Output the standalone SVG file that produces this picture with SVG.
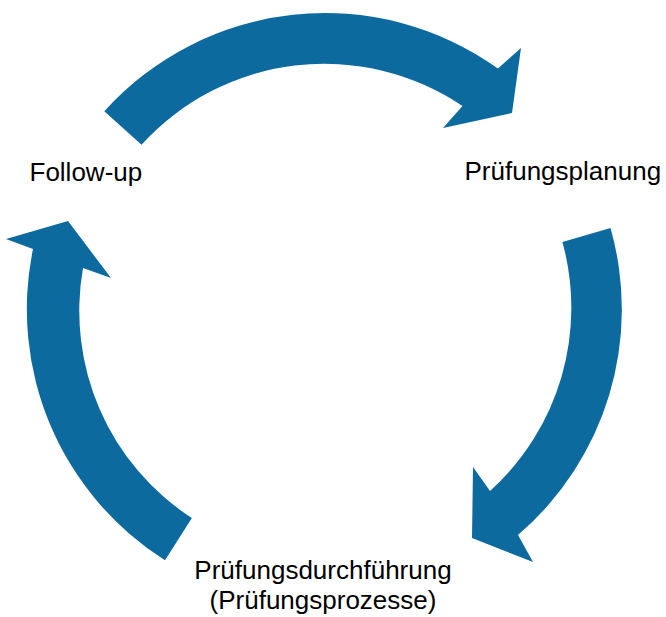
<svg xmlns="http://www.w3.org/2000/svg" width="666" height="617" viewBox="0 0 666 617">
<style>
.arrow{fill:#0D6A9F;stroke:none}
.lbl{font-family:"Liberation Sans",Arial,sans-serif;font-size:26px;fill:#000}
</style>
<rect width="666" height="617" fill="#fff"/>
<g id="connectors">
<path id="arrow-top" class="arrow" d="M104.3 111.3 A297 297 0 0 1 497.9 68.5 L521 48 L512 113 L443 128 L462.5 106 A247 247 0 0 0 141.5 144.7 Z"/>
<path id="arrow-right" class="arrow" d="M610.5 228.1 A297 297 0 0 1 518 535 L533 562 L472 538 L473 467 L490 491 A247 247 0 0 0 562.4 241.9 Z"/>
<path id="arrow-left" class="arrow" d="M165 560.2 A297 297 0 0 1 33 249 L6 239 L68 221 L111 278 L83 268 A247 247 0 0 0 191.9 518.1 Z"/>
</g>
<g id="node-followup"><text class="lbl" x="29.5" y="181">Follow-up</text></g>
<g id="node-planung"><text class="lbl" x="464.5" y="179.5">Prüfungsplanung</text></g>
<g id="node-durchfuehrung">
<text class="lbl" x="323" y="579" text-anchor="middle">Prüfungsdurchführung</text>
<text class="lbl" x="323" y="609" text-anchor="middle">(Prüfungsprozesse)</text>
</g>
</svg>
